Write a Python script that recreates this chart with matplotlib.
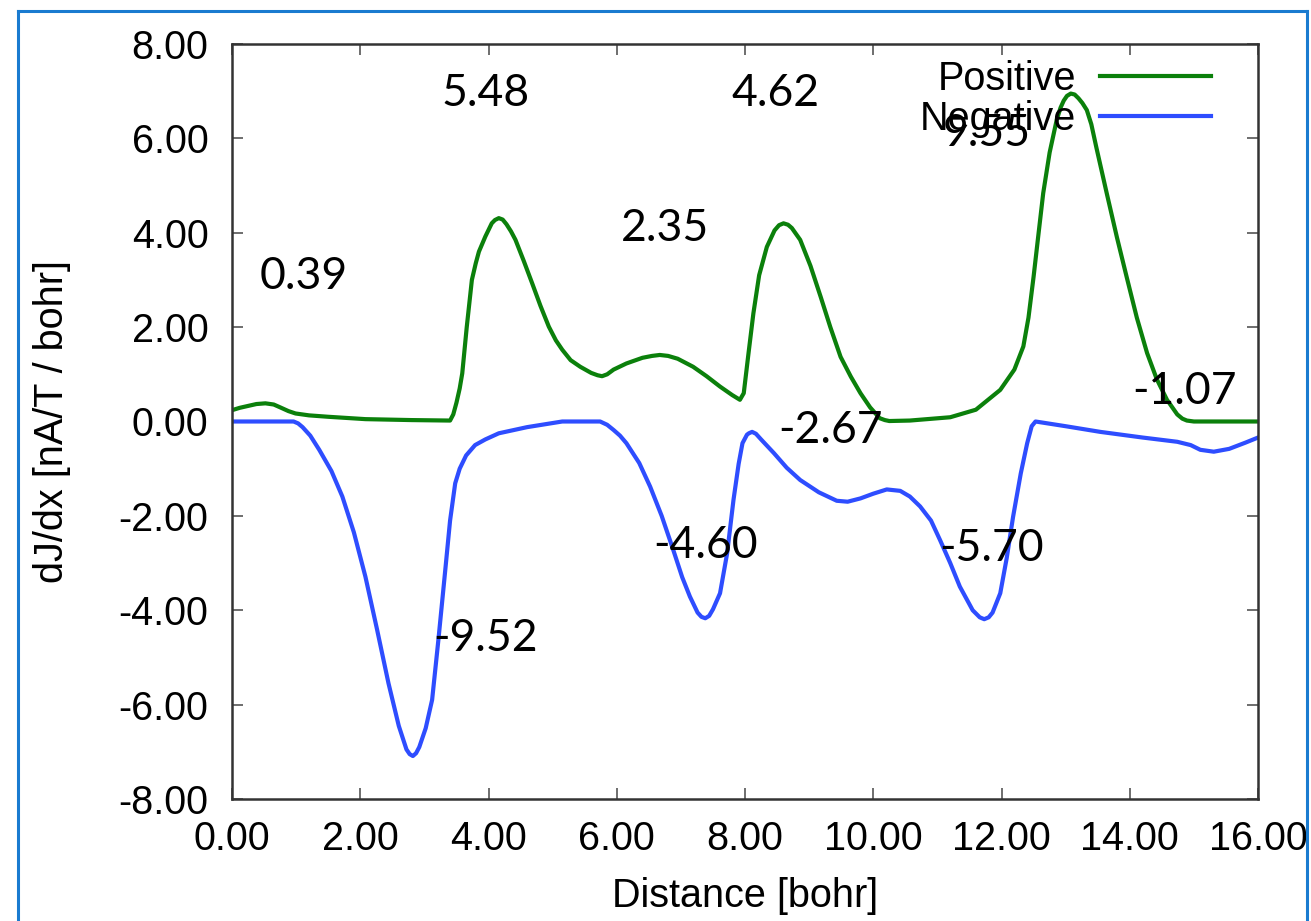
import matplotlib
matplotlib.use("Agg")
import matplotlib.pyplot as plt
from matplotlib.lines import Line2D

pos_x = [0.00, 0.12, 0.25, 0.38, 0.52, 0.65, 0.75, 0.88, 0.99, 1.20, 1.50, 2.08, 2.80, 3.40,
         3.45, 3.50, 3.55, 3.59, 3.66, 3.74, 3.80, 3.85, 3.95, 4.05, 4.10, 4.16, 4.22, 4.28,
         4.35, 4.42, 4.55, 4.68, 4.81, 4.94, 5.05, 5.15, 5.28, 5.43, 5.60, 5.70, 5.77, 5.85,
         5.95, 6.15, 6.40, 6.55, 6.67, 6.80, 6.95, 7.19, 7.40, 7.61, 7.80, 7.92, 7.98, 8.05,
         8.13, 8.22, 8.34, 8.46, 8.53, 8.60, 8.67, 8.73, 8.86, 9.02, 9.18, 9.33, 9.49, 9.65,
         9.80, 9.95, 10.10, 10.18, 10.25, 10.57, 11.20, 11.60, 11.98, 12.20, 12.34, 12.42,
         12.50, 12.57, 12.65, 12.75, 12.86, 12.92, 12.97, 13.02, 13.08, 13.14, 13.20, 13.26,
         13.33, 13.40, 13.48, 13.64, 13.80, 13.95, 14.11, 14.27, 14.42, 14.58, 14.74, 14.82,
         14.89, 15.00, 15.20, 16.00]
pos_y = [0.24, 0.29, 0.33, 0.37, 0.385, 0.36, 0.30, 0.22, 0.17, 0.13, 0.10, 0.05, 0.03, 0.02,
         0.15, 0.40, 0.70, 1.02, 2.00, 3.00, 3.35, 3.60, 3.92, 4.20, 4.27, 4.31, 4.28, 4.18,
         4.03, 3.85, 3.40, 2.93, 2.45, 2.01, 1.72, 1.52, 1.30, 1.16, 1.03, 0.98, 0.96, 1.00,
         1.10, 1.23, 1.35, 1.39, 1.41, 1.39, 1.33, 1.16, 0.96, 0.74, 0.56, 0.46, 0.60, 1.40,
         2.29, 3.10, 3.70, 4.05, 4.16, 4.20, 4.17, 4.10, 3.85, 3.30, 2.64, 2.00, 1.37, 0.95,
         0.60, 0.30, 0.07, 0.03, 0.01, 0.02, 0.09, 0.25, 0.67, 1.10, 1.59, 2.20,
         3.07, 3.90, 4.84, 5.70, 6.39, 6.65, 6.80, 6.90, 6.95, 6.93, 6.85, 6.75,
         6.60, 6.30, 5.80, 4.84, 3.90, 3.07, 2.20, 1.45, 0.90, 0.46, 0.15, 0.06,
         0.02, 0.00, 0.00, 0.00]

neg_x = [0.00, 0.96, 1.03, 1.10, 1.22, 1.36, 1.55, 1.72, 1.90, 2.08, 2.26, 2.44, 2.60, 2.72,
         2.77, 2.82, 2.87, 2.92, 3.02, 3.12, 3.22, 3.33, 3.40, 3.48, 3.55, 3.65, 3.79, 3.95,
         4.16, 4.60, 5.15, 5.74, 5.85, 5.95, 6.05, 6.15, 6.35, 6.52, 6.70, 6.88, 7.02, 7.14,
         7.26, 7.32, 7.38, 7.44, 7.50, 7.61, 7.72, 7.82, 7.90, 7.96, 8.03, 8.06, 8.11, 8.17,
         8.25, 8.45, 8.65, 8.86, 9.15, 9.43, 9.60, 9.80, 10.00, 10.21, 10.42, 10.57, 10.73,
         10.90, 11.04, 11.20, 11.35, 11.55, 11.66, 11.73, 11.80, 11.86, 11.98, 12.08, 12.18,
         12.30, 12.40, 12.47, 12.53, 13.00, 13.54, 14.20, 14.74, 14.95, 15.10, 15.31, 15.55,
         15.80, 16.00]
neg_y = [0.00, 0.00, -0.04, -0.12, -0.30, -0.60, -1.05, -1.59, -2.35, -3.29, -4.40, -5.55, -6.45, -6.95,
         -7.05, -7.09, -7.03, -6.90, -6.50, -5.90, -4.60, -3.08, -2.10, -1.31, -1.00, -0.72, -0.50, -0.38,
         -0.25, -0.12, 0.00, 0.00, -0.07, -0.18, -0.30, -0.46, -0.88, -1.38, -2.00, -2.72, -3.30, -3.71,
         -4.05, -4.14, -4.17, -4.12, -3.98, -3.64, -2.80, -1.66, -0.90, -0.46, -0.28, -0.25, -0.22, -0.26,
         -0.38, -0.67, -0.98, -1.24, -1.50, -1.68, -1.70, -1.63, -1.53, -1.44, -1.47, -1.59, -1.80,
         -2.10, -2.51, -3.00, -3.50, -4.00, -4.15, -4.19, -4.15, -4.05, -3.64, -2.90, -2.02,
         -1.10, -0.46, -0.10, 0.00, -0.10, -0.22, -0.34, -0.43, -0.50, -0.60, -0.64, -0.58,
         -0.45, -0.34]

# integrated values written on the plot
note_text = ["5.48", "4.62", "9.55", "2.35", "0.39", "-2.67", "-1.07", "-4.60", "-9.52", "-5.70"]
note_x = [3.95, 8.47, 11.77, 6.75, 1.12, 9.33, 14.86, 7.39, 3.96, 11.85]
note_y = [6.96, 6.96, 6.10, 4.10, 3.08, -0.20, 0.63, -2.62, -4.59, -2.70]

ticks_x = [0, 2, 4, 6, 8, 10, 12, 14, 16]
ticks_y = [-8, -6, -4, -2, 0, 2, 4, 6, 8]

plt.rcParams["font.family"] = ["Liberation Sans", "DejaVu Sans"]

fig = plt.figure(figsize=(13.11, 9.21), dpi=100)
ax = fig.add_axes([0.1770, 0.1325, 0.7826, 0.8197])

ax.plot(pos_x, pos_y, color="#0b800b", lw=3.0, label="Positive", solid_joinstyle="round")
ax.plot(neg_x, neg_y, color="#2e4dff", lw=3.0, label="Negative", solid_joinstyle="round")

for t, x, y in zip(note_text, note_x, note_y):
    ax.text(x, y, t, fontsize=32, family=["Lato", "DejaVu Sans"], ha="center", va="center")

ax.set_xlim(0, 16)
ax.set_ylim(-8, 8)
ax.set_xticks(ticks_x)
ax.set_yticks(ticks_y)
ax.set_xticklabels([f"{v:.2f}" for v in ticks_x])
ax.set_yticklabels([f"{v:.2f}" for v in ticks_y])
ax.tick_params(direction="in", length=8, width=1.2, color="#555555", labelsize=28.5,
               top=True, right=True, pad=17)
ax.tick_params(axis="x", pad=15)
for s in ax.spines.values():
    s.set_linewidth(1.8)
    s.set_color("#333333")

ax.set_xlabel("Distance [bohr]", fontsize=28.5, labelpad=14)
ax.set_ylabel("dJ/dx [nA/T / bohr]", fontsize=28.5, labelpad=34)

ax.legend(loc="upper right", bbox_to_anchor=(1.0, 1.042), frameon=False, markerfirst=False,
          fontsize=28.5, handlelength=2.8, handletextpad=0.6, labelspacing=0.05,
          borderaxespad=1.2, borderpad=0.0)

# blue frame around the picture
edge = "#1a7bd0"
fig.add_artist(Line2D([18 / 1311, 18 / 1311], [0, 1 - 11 / 921], color=edge, lw=2.2,
                      transform=fig.transFigure))
fig.add_artist(Line2D([18 / 1311, 1307 / 1311], [1 - 11 / 921, 1 - 11 / 921], color=edge,
                      lw=2.2, transform=fig.transFigure))
fig.add_artist(Line2D([1307 / 1311, 1307 / 1311], [0, 1 - 11 / 921], color=edge, lw=2.2,
                      transform=fig.transFigure))

fig.savefig("out.png", dpi=100)
